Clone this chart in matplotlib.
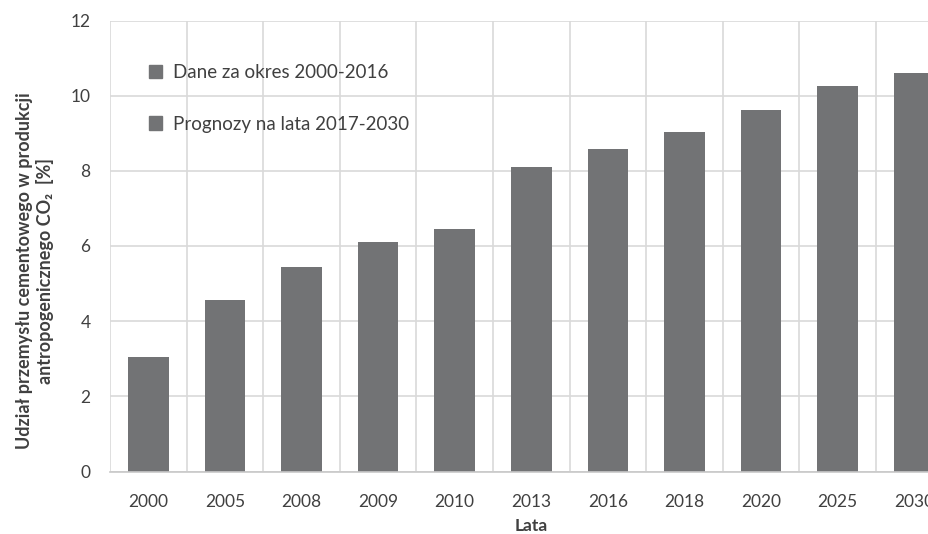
import matplotlib
matplotlib.use("Agg")
import matplotlib.pyplot as plt
from matplotlib.patches import Patch
import numpy as np

years = ["2000", "2005", "2008", "2009", "2010", "2013", "2016", "2018", "2020", "2025", "2030"]
values = [3.05, 4.55, 5.43, 6.1, 6.45, 8.1, 8.58, 9.02, 9.63, 10.25, 10.6]
legend_labels = ["Dane za okres 2000-2016", "Prognozy na lata 2017-2030"]
y_ticks = [0, 2, 4, 6, 8, 10, 12]

plt.rcParams['font.family'] = ['Lato', 'DejaVu Sans']

bar_color = "#727375"
grid_color = "#d9d9d9"
text_color = "#404040"

fig = plt.figure(figsize=(9.29, 5.34), dpi=100)
ax = fig.add_axes([110/929, 62.5/534, 842.6/929, 451/534])

x = np.arange(len(years))
ax.bar(x, values, width=0.53, color=bar_color, zorder=3)

ax.set_xlim(-0.5, len(years) - 0.5)
ax.set_ylim(0, 12)
ax.set_yticks(y_ticks)
ax.set_yticklabels([str(t) for t in y_ticks])
ax.set_xticks(x)
ax.set_xticklabels(years)
ax.set_xticks(np.arange(-0.5, len(years), 1.0), minor=True)

ax.grid(axis='y', which='major', color=grid_color, linewidth=1.2, zorder=0)
ax.grid(axis='x', which='minor', color=grid_color, linewidth=1.2, zorder=0)
ax.grid(axis='x', which='major', visible=False)

for s in ['top', 'right', 'left']:
    ax.spines[s].set_visible(False)
ax.spines['bottom'].set_color("#c8c8c8")
ax.spines['bottom'].set_linewidth(1.2)
ax.spines['bottom'].set_zorder(4)

ax.tick_params(axis='both', which='both', length=0, labelsize=12.5, colors=text_color)
ax.tick_params(axis='x', pad=16)
ax.tick_params(axis='y', pad=14)

ax.set_xlabel("Lata", fontsize=12.5, fontweight='bold', color=text_color, labelpad=6)
ax.set_ylabel("Udział przemysłu cementowego w produkcji\nantropogenicznego CO₂  [%]",
              fontsize=13.0, fontweight='bold', color=text_color,
              linespacing=1.2)
ax.yaxis.set_label_coords(-0.066, 0.445)

handles = [Patch(facecolor=bar_color, edgecolor=bar_color),
           Patch(facecolor=bar_color, edgecolor=bar_color)]
ax.legend(handles, legend_labels, loc='upper left', bbox_to_anchor=(0.037, 0.921),
          frameon=False, fontsize=13.5, labelspacing=1.86, handlelength=0.7,
          handleheight=0.7, handletextpad=0.6, labelcolor=text_color,
          borderaxespad=0)

fig.savefig("out.png", dpi=100)
